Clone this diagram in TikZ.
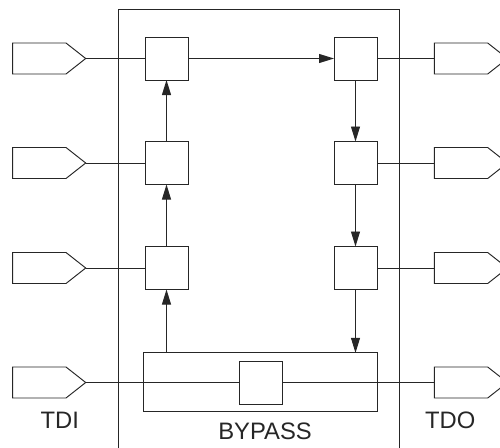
\documentclass[tikz,border=0pt]{standalone}
\usepackage{fontspec}
\setmainfont{Liberation Sans}
\usetikzlibrary{arrows.meta}
\begin{document}
\begin{tikzpicture}[x=1pt,y=-1pt,
  line width=0.95pt, draw=black!85,
  cell/.style={draw, minimum width=43pt, minimum height=43pt, inner sep=0pt, outer sep=0pt},
  flow/.style={-{Triangle[length=15pt,width=9pt]}},
  lbl/.style={font=\fontsize{23.8}{28}\selectfont, text=black!85, inner sep=0pt, anchor=base}]
\useasboundingbox (0,0) rectangle (500,447);
\begin{scope}
\clip (0,0) rectangle (500,447);
% enclosing chip outline
\draw (118.3,460) -- (118.3,9.3) -- (399.5,9.3) -- (399.5,460);

% boundary cells, left column (rising) and right column (falling)
\node[cell] (L1) at (166.5,58.5) {};
\node[cell] (L2) at (166.5,163) {};
\node[cell] (L3) at (166.5,268) {};
\node[cell] (R1) at (355.5,58.5) {};
\node[cell] (R2) at (355.5,163) {};
\node[cell] (R3) at (355.5,268) {};

% bypass register
\node[draw, minimum width=233.7pt, minimum height=58.3pt, inner sep=0pt, outer sep=0pt] (BP) at (260.2,382) {};
\node[cell] (BC) at (261,382.5) {};

% input pins (pentagons pointing right)
\foreach \n/\y in {P1/58.5,P2/163,P3/268,PI/382.5}{
  \draw (12.7,\y-15.5) -- (66,\y-15.5) -- (85.7,\y) -- (66,\y+15.5) -- (12.7,\y+15.5) -- cycle;
  \coordinate (\n) at (85.7,\y);
}
% output pins
\foreach \n/\y in {Q1/58.5,Q2/163,Q3/268,QO/382.5}{
  \draw (434.3,\y-15.5) -- (487.7,\y-15.5) -- (507.4,\y) -- (487.7,\y+15.5) -- (434.3,\y+15.5) -- cycle;
  \coordinate (\n) at (434.3,\y);
}
\end{scope}

% pin connections
\draw (P1) -- (L1.west);
\draw (P2) -- (L2.west);
\draw (P3) -- (L3.west);
\draw (PI) -- (BC.west);
\draw (R1.east) -- (Q1);
\draw (R2.east) -- (Q2);
\draw (R3.east) -- (Q3);
\draw (BC.east) -- (QO);

% scan chain
\draw[flow] (BP.north -| L3.south) -- (L3.south);
\draw[flow] (L3.north) -- (L2.south);
\draw[flow] (L2.north) -- (L1.south);
\draw[flow] (L1.east) -- (R1.west);
\draw[flow] (R1.south) -- (R2.north);
\draw[flow] (R2.south) -- (R3.north);
\draw[flow] (R3.south) -- (R3.south |- BP.north);

% labels
\node[lbl] (tdi) at (59.7,428) {TDI};
\node[lbl] (tdo) at (450.3,428) {TDO};
\node[lbl] (byp) at (265,439.3) {BYPASS};
\end{tikzpicture}
\end{document}
